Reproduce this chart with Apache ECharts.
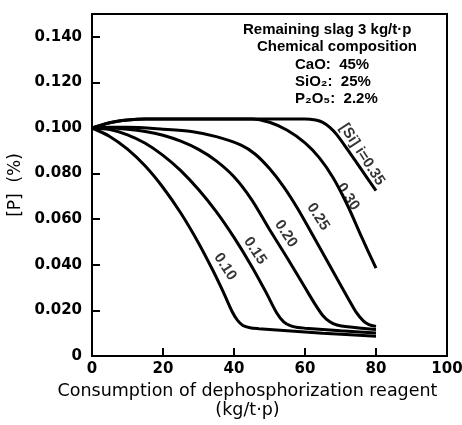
<!DOCTYPE html>
<html>
<head>
<meta charset="utf-8">
<script src="https://cdn.jsdelivr.net/npm/echarts@6/dist/echarts.min.js"></script>
<style>
html, body { margin: 0; padding: 0; background: #fff; }
#chart { width: 462px; height: 425px; }
</style>
</head>
<body>
<div id="chart"></div>
<script>
// [Si]i curves, x = reagent consumption (kg/t-p), y = [P] (%)
var si035X = [0, 5, 10, 15, 30, 45, 60, 63, 65, 67, 69, 72, 76, 80];
var si035Y = [0.100, 0.1023, 0.1035, 0.104, 0.104, 0.104, 0.104, 0.1035, 0.1025, 0.1003, 0.097, 0.0905, 0.0815, 0.0725];
var si030X = [0, 5, 10, 15, 30, 45, 50, 55, 60, 64, 68, 72, 76, 80];
var si030Y = [0.100, 0.1023, 0.1035, 0.104, 0.104, 0.104, 0.1025, 0.099, 0.0935, 0.087, 0.078, 0.066, 0.052, 0.0385];
var si025X = [0, 5, 10, 20, 28, 35, 42, 46, 50, 54, 58, 62, 65, 69, 72, 74.5, 76.5, 78, 80];
var si025Y = [0.100, 0.1003, 0.1003, 0.0995, 0.0985, 0.0962, 0.0925, 0.0885, 0.0822, 0.0742, 0.0645, 0.0535, 0.0452, 0.034, 0.0257, 0.019, 0.0153, 0.0138, 0.013];
var si020X = [0, 5, 10, 15, 20, 25, 30, 35, 40, 45, 50, 55, 60, 63, 65, 67, 69, 72, 80];
var si020Y = [0.100, 0.100, 0.0995, 0.0985, 0.0968, 0.0942, 0.0906, 0.0856, 0.0786, 0.0685, 0.0555, 0.043, 0.030, 0.0223, 0.0178, 0.015, 0.0136, 0.0128, 0.0116];
var si015X = [0, 5, 10, 15, 20, 25, 30, 35, 40, 45, 49, 52, 54, 56, 58, 60, 70, 80];
var si015Y = [0.100, 0.0993, 0.097, 0.0933, 0.088, 0.0813, 0.073, 0.0633, 0.052, 0.0393, 0.028, 0.019, 0.015, 0.0132, 0.0125, 0.0122, 0.0111, 0.0101];
var si010X = [0, 5, 10, 15, 20, 25, 30, 34, 37, 39.5, 41, 42.5, 44.5, 47, 55, 65, 80];
var si010Y = [0.100, 0.0963, 0.0907, 0.0833, 0.0739, 0.0627, 0.0496, 0.0377, 0.028, 0.0194, 0.0156, 0.0134, 0.0124, 0.0120, 0.0111, 0.0100, 0.0087];

// curve labels (placed beside each curve)
var labelText = ['[Si] i=0.35', '0.30', '0.25', '0.20', '0.15', '0.10'];
var labelX = [76.1, 72.1, 63.7, 54.6, 45.9, 37.5];
var labelY = [0.0884, 0.0699, 0.0611, 0.0536, 0.0462, 0.0391];

var slagNote = ['Remaining slag 3 kg/t\u00b7p', 'Chemical composition'];
var compNote = ['CaO:  45%', 'SiO\u2082:  25%', 'P\u2082O\u2085:  2.2%'];

function zip(xs, ys) {
	return xs.map(function(x, i) { return [x, ys[i]]; });
}

var curves = [
	zip(si035X, si035Y), zip(si030X, si030Y), zip(si025X, si025Y),
	zip(si020X, si020Y), zip(si015X, si015Y), zip(si010X, si010Y)
];

var tickFont = { color: '#000', fontFamily: 'DejaVu Sans', fontWeight: 'bold', fontSize: 15 };
var noteFont = 'bold 15px "Liberation Sans"';

var series = curves.map(function(d) {
	return {
		type: 'line',
		data: d,
		symbol: 'none',
		smooth: 0.3,
		lineStyle: { color: '#000', width: 3 },
		silent: true
	};
});

series.push({
	type: 'scatter',
	symbolSize: 1,
	itemStyle: { color: 'rgba(0,0,0,0)' },
	silent: true,
	data: labelX.map(function(x, i) {
		return { value: [x, labelY[i]], label: { formatter: labelText[i] } };
	}),
	label: {
		show: true,
		position: 'inside',
		rotate: -57,
		color: '#000',
		fontFamily: 'Liberation Sans',
		fontWeight: 'bold',
		fontSize: 15
	}
});

var myChart = echarts.init(document.getElementById('chart'));
var option = {
	animation: false,
	backgroundColor: '#fff',
	grid: {
		left: 92, right: 15, top: 14, bottom: 69,
		containLabel: false,
		outerBoundsMode: 'none',
		show: true, borderColor: '#000', borderWidth: 2
	},
	xAxis: {
		type: 'value',
		min: 0, max: 100, interval: 20,
		axisLine: { show: true, lineStyle: { color: '#000', width: 2 } },
		axisTick: { show: true, inside: true, length: 8, lineStyle: { color: '#000', width: 2 } },
		axisLabel: Object.assign({ margin: 6 }, tickFont),
		splitLine: { show: false },
		name: 'Consumption of dephosphorization reagent\n(kg/t\u00b7p)',
		nameLocation: 'middle',
		nameGap: 26,
		nameTextStyle: {
			color: '#000', fontFamily: 'DejaVu Sans', fontSize: 17.5, lineHeight: 19,
			padding: [0, 44, 0, 0]
		}
	},
	yAxis: {
		type: 'value',
		min: 0, max: 0.15, interval: 0.02,
		axisLine: { show: true, lineStyle: { color: '#000', width: 2 } },
		axisTick: { show: true, inside: true, length: 8, lineStyle: { color: '#000', width: 2 } },
		axisLabel: Object.assign({
			margin: 10,
			formatter: function(v) {
				if (v === 0) return '0';
				if (v > 0.141) return '';
				return v.toFixed(3);
			}
		}, tickFont),
		splitLine: { show: false },
		name: '[P]  (%)',
		nameLocation: 'middle',
		nameGap: 58,
		nameTextStyle: { color: '#000', fontFamily: 'DejaVu Sans', fontSize: 17 }
	},
	graphic: [
		{ type: 'text', x: 243, y: 30, style: { text: slagNote[0], font: noteFont, fill: '#000', textAlign: 'left', textVerticalAlign: 'middle' } },
		{ type: 'text', x: 337, y: 47, style: { text: slagNote[1], font: noteFont, fill: '#000', textAlign: 'center', textVerticalAlign: 'middle' } },
		{ type: 'text', x: 295, y: 65, style: { text: compNote[0], font: noteFont, fill: '#000', textAlign: 'left', textVerticalAlign: 'middle' } },
		{ type: 'text', x: 295, y: 82, style: { text: compNote[1], font: noteFont, fill: '#000', textAlign: 'left', textVerticalAlign: 'middle' } },
		{ type: 'text', x: 295, y: 99, style: { text: compNote[2], font: noteFont, fill: '#000', textAlign: 'left', textVerticalAlign: 'middle' } }
	],
	series: series
};
myChart.setOption(option);
</script>
</body>
</html>
